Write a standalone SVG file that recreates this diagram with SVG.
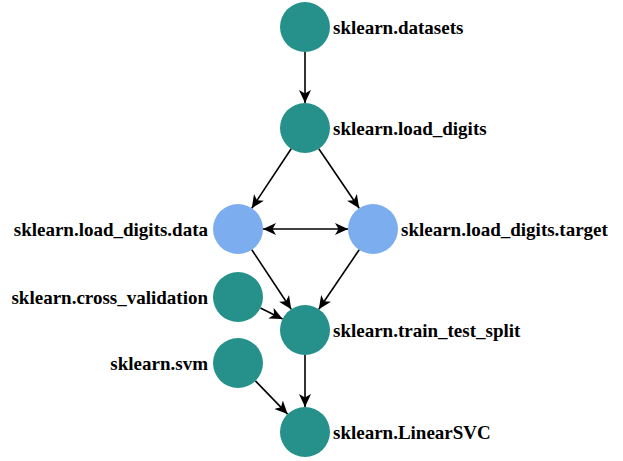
<svg xmlns="http://www.w3.org/2000/svg" width="623" height="461" viewBox="0 0 623 461">
<style>
.t{fill:#26918b}
.b{fill:#7cadee}
.r{text-anchor:end}
.e{stroke:#000;stroke-width:1.6;fill:none;marker-end:url(#ah)}
</style>
<defs>
<marker id="ah" markerUnits="userSpaceOnUse" markerWidth="14" markerHeight="12" refX="13" refY="6" orient="auto-start-reverse" viewBox="0 0 14 12">
<path d="M0,0 L13,6 L0,12 L3.5,6 z" fill="#000"/>
</marker>
</defs>
<rect width="623" height="461" fill="#fff"/>
<g id="edges">
<path class="e" d="M305,52 L305,103"/>
<path class="e" d="M291.2,148.8 L251.8,208.2"/>
<path class="e" d="M318.8,148.8 L359.2,208.2"/>
<path class="e" d="M263,229 L348,229" style="marker-start:url(#ah)"/>
<path class="e" d="M251.8,249.8 L291.2,309.2"/>
<path class="e" d="M359.2,249.8 L318.8,309.2"/>
<path class="e" d="M260.4,308 L282.6,319"/>
<path class="e" d="M305,355 L305,407"/>
<path class="e" d="M255.4,380.9 L287.6,414.1"/>
</g>
<g id="nodes" font-family="Liberation Serif, Times New Roman, Times, serif" font-weight="bold" font-size="19">
<g id="n_datasets"><circle class="t" cx="305" cy="27" r="25"/><text x="333" y="34">sklearn.datasets</text></g>
<g id="n_load_digits"><circle class="t" cx="305" cy="128" r="25"/><text x="333" y="135">sklearn.load_digits</text></g>
<g id="n_data"><circle class="b" cx="238" cy="229" r="25"/><text class="r" x="208" y="236">sklearn.load_digits.data</text></g>
<g id="n_target"><circle class="b" cx="373" cy="229" r="25"/><text x="401" y="236">sklearn.load_digits.target</text></g>
<g id="n_cross_validation"><circle class="t" cx="238" cy="297" r="25"/><text class="r" x="208" y="304">sklearn.cross_validation</text></g>
<g id="n_train_test_split"><circle class="t" cx="305" cy="330" r="25"/><text x="333" y="337">sklearn.train_test_split</text></g>
<g id="n_svm"><circle class="t" cx="238" cy="363" r="25"/><text class="r" x="208" y="370">sklearn.svm</text></g>
<g id="n_LinearSVC"><circle class="t" cx="305" cy="432" r="25"/><text x="333" y="439">sklearn.LinearSVC</text></g>
</g>
</svg>
